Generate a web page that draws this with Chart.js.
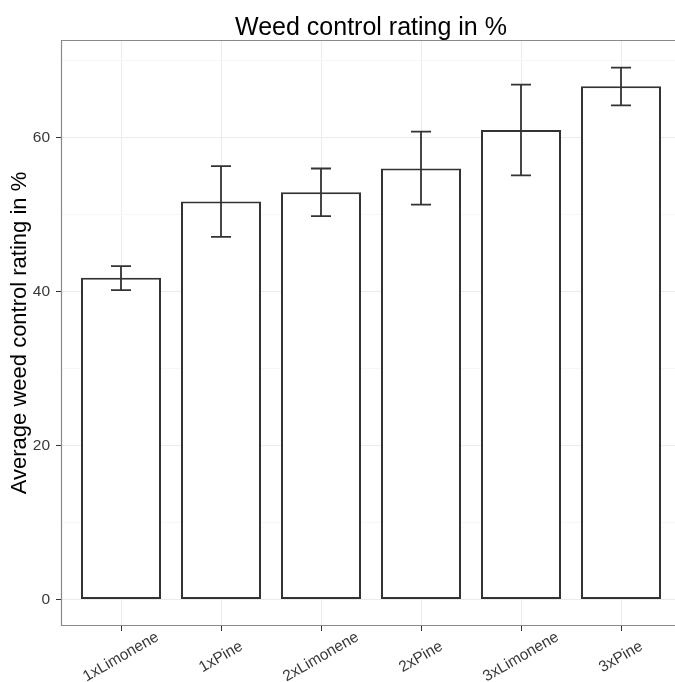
<!DOCTYPE html>
<html>
<head>
<meta charset="utf-8">
<script src="https://cdn.jsdelivr.net/npm/chart.js@4"></script>
<style>
  html, body { margin: 0; padding: 0; background: #fff; overflow: hidden; }
  #wrap { width: 675px; height: 682px; }
</style>
</head>
<body>
<div id="wrap"><canvas id="weedChart" width="675" height="682"></canvas></div>
<script>
// data
const categories = ['1xLimonene', '1xPine', '2xLimonene', '2xPine', '3xLimonene', '3xPine'];
const ratings = [41.8, 51.7, 52.9, 56.0, 61.0, 66.7];
const errLow = [40.2, 47.1, 49.8, 51.3, 55.1, 64.2];
const errHigh = [43.3, 56.3, 56.0, 60.8, 66.9, 69.1];
const yTicks = [0, 10, 20, 30, 40, 50, 60, 70];

const FONT = '"Liberation Sans", Arial, Helvetica, sans-serif';
const DARK = '#333333';

const errorBars = {
    id: 'errorBars',
    afterDatasetsDraw(chart) {
        const ctx = chart.ctx;
        const xs = chart.scales.x, ys = chart.scales.y;
        ctx.save();
        ctx.strokeStyle = DARK;
        ctx.lineWidth = 1.8;
        categories.forEach((c, i) => {
            const x = xs.getPixelForValue(i);
            const x0 = xs.getPixelForValue(i - 0.1);
            const x1 = xs.getPixelForValue(i + 0.1);
            const yl = ys.getPixelForValue(errLow[i]);
            const yh = ys.getPixelForValue(errHigh[i]);
            ctx.beginPath();
            ctx.moveTo(x, yl); ctx.lineTo(x, yh);
            ctx.moveTo(x0, yl); ctx.lineTo(x1, yl);
            ctx.moveTo(x0, yh); ctx.lineTo(x1, yh);
            ctx.stroke();
        });
        ctx.restore();
    }
};

const panelExtras = {
    id: 'panelExtras',
    afterDraw(chart) {
        const ctx = chart.ctx;
        const a = chart.chartArea;
        const xs = chart.scales.x;
        ctx.save();
        // panel border (right side falls outside the picture)
        ctx.strokeStyle = '#8a8a8a';
        ctx.lineWidth = 1.2;
        ctx.beginPath();
        ctx.moveTo(a.right, a.top + 0.5);
        ctx.lineTo(a.left + 0.5, a.top + 0.5);
        ctx.lineTo(a.left + 0.5, a.bottom - 0.5);
        ctx.lineTo(a.right, a.bottom - 0.5);
        ctx.stroke();

        // rotated category labels
        ctx.fillStyle = '#3a3a3a';
        ctx.font = '15.5px ' + FONT;
        ctx.textAlign = 'center';
        ctx.textBaseline = 'middle';
        categories.forEach((c, i) => {
            ctx.save();
            ctx.translate(xs.getPixelForValue(i), 657);
            ctx.rotate(-30 * Math.PI / 180);
            ctx.fillText(c, 0, 0);
            ctx.restore();
        });

        // title centred over the full panel (-0.6 .. 5.6)
        ctx.fillStyle = '#000';
        ctx.font = '25px ' + FONT;
        const cx = (xs.getPixelForValue(-0.6) + xs.getPixelForValue(5.6)) / 2;
        ctx.fillText('Weed control rating in %', cx, 28);
        ctx.restore();
    }
};

const ctx = document.getElementById('weedChart').getContext('2d');
new Chart(ctx, {
    type: 'bar',
    data: {
        datasets: [{
            label: 'Average weed control rating in %',
            data: ratings.map((v, i) => ({ x: i, y: v })),
            backgroundColor: '#ffffff',
            borderColor: DARK,
            borderWidth: 2,
            borderSkipped: false,
            categoryPercentage: 0.8,
            barPercentage: 1.0,
        }]
    },
    options: {
        responsive: false,
        animation: false,
        devicePixelRatio: 1,
        layout: { padding: { top: 40, right: 0, left: 0, bottom: 0 } },
        plugins: {
            legend: { display: false },
            tooltip: { enabled: false },
        },
        scales: {
            x: {
                type: 'linear',
                min: -0.6,
                max: 5.54,
                offset: false,
                afterBuildTicks: (scale) => {
                    scale.ticks = categories.map((c, i) => ({ value: i }));
                },
                afterFit: (scale) => { scale.height = 56; },
                ticks: { display: false },
                grid: {
                    offset: false,
                    color: '#ebebeb',
                    tickColor: DARK,
                    tickLength: 5,
                    lineWidth: 1,
                },
                border: { display: false },
            },
            y: {
                min: -3.46,
                max: 72.7,
                afterBuildTicks: (scale) => {
                    scale.ticks = yTicks.map(v => ({ value: v }));
                },
                afterFit: (scale) => { scale.width = 61; },
                ticks: {
                    color: '#3a3a3a',
                    font: { family: FONT, size: 15.5 },
                    padding: 6,
                    callback: (v) => (v % 20 === 0 ? v : ''),
                },
                grid: {
                    color: (c) => (c.tick && c.tick.value % 20 === 0 ? '#ebebeb' : '#f7f7f7'),
                    tickColor: (c) => (c.tick && c.tick.value % 20 === 0 ? DARK : 'rgba(0,0,0,0)'),
                    tickLength: 5,
                    lineWidth: 1,
                },
                border: { display: false },
                title: {
                    display: true,
                    text: 'Average weed control rating in %',
                    color: '#000',
                    font: { family: FONT, size: 22 },
                    padding: { top: 7, bottom: 0 },
                },
            }
        }
    },
    plugins: [errorBars, panelExtras]
});
</script>
</body>
</html>
